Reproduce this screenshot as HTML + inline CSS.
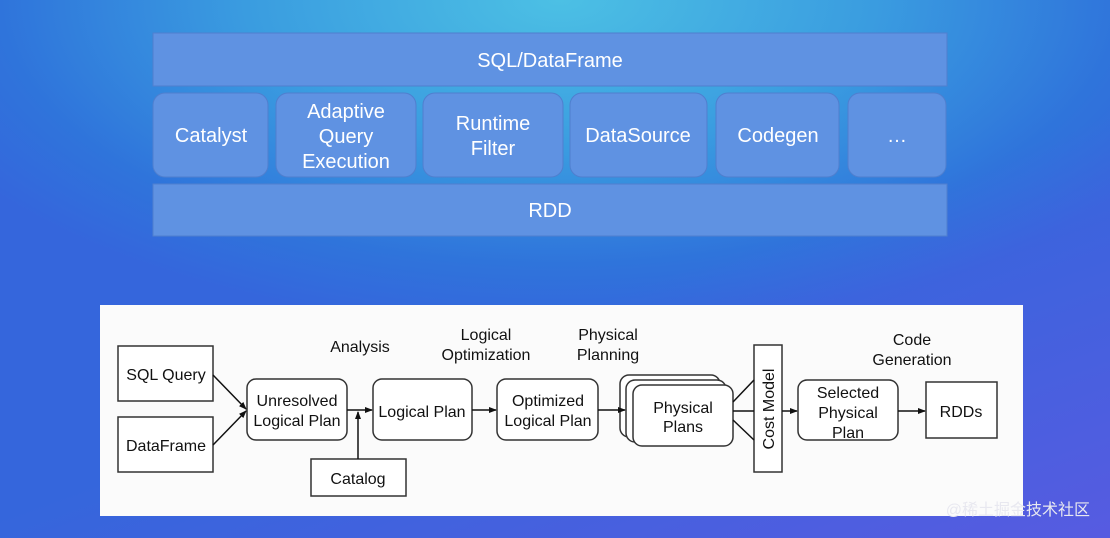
<!DOCTYPE html>
<html><head><meta charset="utf-8"><style>
body{margin:0;width:1110px;height:538px;overflow:hidden;font-family:"Liberation Sans","Noto Sans CJK SC",sans-serif;
background:radial-gradient(ellipse 700px 330px at 560px 0px,#4cc0e4 0%,#3a9ce0 45%,#2f74db 80%,#3566dc 100%);}
.bg2{position:absolute;left:0;top:0;width:1110px;height:538px;background:linear-gradient(160deg,rgba(0,0,0,0) 55%,rgba(120,80,230,0.5) 100%);}
</style></head><body>
<div class="bg2"></div>
<svg width="1110" height="538" style="position:absolute;left:0;top:0" font-family="Liberation Sans, sans-serif">
<g fill="#5f92e2" stroke="#4f7fcf" stroke-width="1">
<rect x="153" y="33" width="794" height="53"/>
<rect x="153" y="184" width="794" height="52"/>
<rect x="153" y="93" width="115" height="84" rx="12"/>
<rect x="276" y="93" width="140" height="84" rx="12"/>
<rect x="423" y="93" width="140" height="84" rx="12"/>
<rect x="570" y="93" width="137" height="84" rx="12"/>
<rect x="716" y="93" width="123" height="84" rx="12"/>
<rect x="848" y="93" width="98" height="84" rx="12"/>
</g>
<g fill="#fff" font-size="20" text-anchor="middle">
<text x="550" y="67">SQL/DataFrame</text>
<text x="550" y="217">RDD</text>
<text x="211" y="142">Catalyst</text>
<text x="346" y="118">Adaptive</text><text x="346" y="143">Query</text><text x="346" y="168">Execution</text>
<text x="493" y="130">Runtime</text><text x="493" y="155">Filter</text>
<text x="638" y="142">DataSource</text>
<text x="778" y="142">Codegen</text>
<text x="897" y="142">…</text>
</g>
<rect x="100" y="305" width="923" height="211" fill="#fbfbfb"/>
<defs><marker id="a" markerWidth="8" markerHeight="8" refX="7" refY="4" orient="auto" markerUnits="userSpaceOnUse"><path d="M0,1 L8,4 L0,7z" fill="#111"/></marker></defs>
<g fill="#fff" stroke="#333" stroke-width="1.5">
<rect x="118" y="346" width="95" height="55"/>
<rect x="118" y="417" width="95" height="55"/>
<rect x="247" y="379" width="100" height="61" rx="9"/>
<rect x="373" y="379" width="99" height="61" rx="9"/>
<rect x="497" y="379" width="101" height="61" rx="9"/>
<rect x="311" y="459" width="95" height="37"/>
<rect x="620" y="375" width="100" height="62" rx="9"/>
<rect x="626" y="380" width="100" height="62" rx="9"/>
<rect x="633" y="385" width="100" height="61" rx="9"/>
<rect x="754" y="345" width="28" height="127"/>
<rect x="798" y="380" width="100" height="60" rx="9"/>
<rect x="926" y="382" width="71" height="56"/>
</g>
<g stroke="#111" stroke-width="1.5" fill="none">
<line x1="213" y1="375" x2="246" y2="409" marker-end="url(#a)"/>
<line x1="213" y1="445" x2="246" y2="411" marker-end="url(#a)"/>
<line x1="347" y1="410" x2="372" y2="410" marker-end="url(#a)"/>
<line x1="358" y1="459" x2="358" y2="412" marker-end="url(#a)"/>
<line x1="472" y1="410" x2="496" y2="410" marker-end="url(#a)"/>
<line x1="598" y1="410" x2="625" y2="410" marker-end="url(#a)"/>
<line x1="733" y1="402" x2="754" y2="380"/>
<line x1="733" y1="411" x2="754" y2="411"/>
<line x1="733" y1="420" x2="754" y2="440"/>
<line x1="782" y1="411" x2="797" y2="411" marker-end="url(#a)"/>
<line x1="898" y1="411" x2="925" y2="411" marker-end="url(#a)"/>
</g>
<g fill="#111" font-size="16" text-anchor="middle">
<text x="166" y="380">SQL Query</text>
<text x="166" y="451">DataFrame</text>
<text x="297" y="406">Unresolved</text><text x="297" y="426">Logical Plan</text>
<text x="422" y="417">Logical Plan</text>
<text x="548" y="406">Optimized</text><text x="548" y="426">Logical Plan</text>
<text x="358" y="484">Catalog</text>
<text x="683" y="413">Physical</text><text x="683" y="432">Plans</text>
<text x="848" y="398">Selected</text><text x="848" y="418">Physical</text><text x="848" y="438">Plan</text>
<text x="961" y="417">RDDs</text>
<text x="360" y="352">Analysis</text>
<text x="486" y="340">Logical</text><text x="486" y="360">Optimization</text>
<text x="608" y="340">Physical</text><text x="608" y="360">Planning</text>
<text x="912" y="345">Code</text><text x="912" y="365">Generation</text>
<text transform="translate(774,409) rotate(-90)">Cost Model</text>
</g>
<text x="1090" y="515" text-anchor="end" font-size="16" fill="#e8e8f0" font-family="Liberation Sans, Noto Sans CJK SC, sans-serif">@稀土掘金技术社区</text>
</svg>
</body></html>
